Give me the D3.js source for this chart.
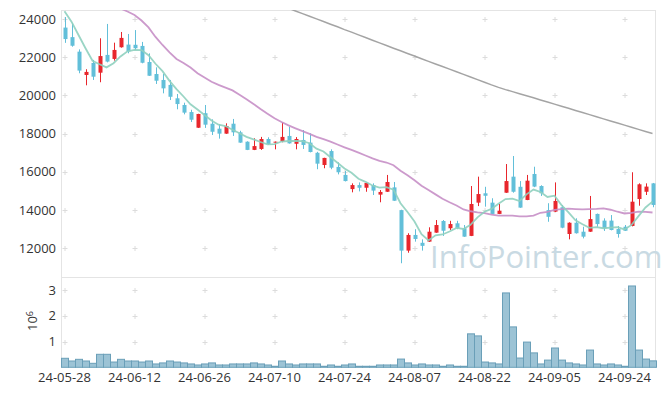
<!DOCTYPE html>
<html><head><meta charset="utf-8">
<script src="https://cdn.jsdelivr.net/npm/d3@7"></script>
<style>body{margin:0;background:#fff}svg{display:block}</style>
</head><body><svg id="c" width="665" height="396"></svg>
<script>
const dates = ["24-05-28","24-05-29","24-05-30","24-05-31","24-06-03","24-06-04","24-06-05","24-06-07","24-06-10","24-06-11",
"24-06-12","24-06-13","24-06-14","24-06-17","24-06-18","24-06-19","24-06-20","24-06-21","24-06-24","24-06-25",
"24-06-26","24-06-27","24-06-28","24-07-01","24-07-02","24-07-03","24-07-04","24-07-05","24-07-08","24-07-09",
"24-07-10","24-07-11","24-07-12","24-07-15","24-07-16","24-07-17","24-07-18","24-07-19","24-07-22","24-07-23",
"24-07-24","24-07-25","24-07-26","24-07-29","24-07-30","24-07-31","24-08-01","24-08-02","24-08-05","24-08-06",
"24-08-07","24-08-08","24-08-09","24-08-12","24-08-13","24-08-14","24-08-16","24-08-19","24-08-20","24-08-21",
"24-08-22","24-08-23","24-08-26","24-08-27","24-08-28","24-08-29","24-08-30","24-09-02","24-09-03","24-09-04",
"24-09-05","24-09-06","24-09-09","24-09-10","24-09-11","24-09-12","24-09-13","24-09-19","24-09-20","24-09-23",
"24-09-24","24-09-25","24-09-26","24-09-27","24-09-30"];
const openP = [23550,23050,22290,21070,21700,21190,22120,21910,22520,22660,
22650,22590,21750,21120,20810,20550,19850,19500,19130,18310,
19070,18520,18260,18000,18520,18070,17580,17150,17200,17720,
17530,17600,17880,17470,17670,17530,17000,16360,17090,16260,
15840,15100,15310,15170,15310,14810,14960,15190,14000,11880,
12700,12290,12350,12820,13430,13050,13310,13050,12650,14390,
14880,14390,13800,14910,15750,15220,14530,15890,15260,14000,
13920,14150,12750,13340,12870,12870,13800,13450,13450,13010,
13130,13170,14580,14960,15400];
const highP = [24100,23780,22410,21370,21860,22990,23740,22760,23320,23215,
23420,22800,22200,21470,21120,20810,20075,19620,19250,19040,
19500,18750,18500,18540,18770,18150,17600,17760,17830,17810,
17590,18590,18360,17820,18190,18020,17050,16740,17180,16500,
16050,15400,15450,15430,15400,15050,15840,15470,14020,12790,
13000,12470,13100,13480,13480,13440,13440,13220,15260,15750,
15220,14620,14320,16410,16830,15520,15840,16270,15300,14360,
15450,14270,13360,13570,13130,14740,13820,13570,13740,13170,
13220,15980,15400,15400,15420];
const lowP = [22750,22550,21160,20530,20810,20690,21730,21820,22500,22205,
22380,21680,21020,20600,20110,19760,19275,19010,18610,18300,
18300,17930,17740,17990,17880,17520,17140,17140,17150,17410,
17180,17550,17480,17180,17200,17020,16140,16190,16140,15870,
15500,14930,14980,14960,14790,14410,14950,14480,11220,11770,
12350,11880,12340,12810,12650,12960,13000,12600,12640,14210,
14180,13790,13790,14900,14910,14120,14520,15200,14740,13390,
13900,13050,12470,12770,12520,12860,13130,12910,12940,12560,
12910,13150,14230,14790,14150];
const closeP = [22950,22600,21300,21230,20980,22060,21770,22380,23010,22310,
22470,21710,21030,20770,20370,19930,19550,19100,18730,19030,
18470,18100,18000,18400,18070,17530,17150,17350,17720,17460,
17580,17830,17490,17720,17410,17040,16430,16730,16220,15980,
15520,15310,15170,15420,15020,14950,15470,14490,11880,12700,
12490,12130,12870,13220,12920,13270,13050,12610,14320,14840,
14750,13800,13970,15520,14960,14130,15540,15230,14880,13650,
14480,13080,13340,12790,12610,13530,13270,13050,12960,12750,
12920,14440,15350,15230,14270];
// volume in millions of shares
const volume = [0.35,0.245,0.31,0.245,0.155,0.505,0.505,0.205,0.31,0.245,
0.245,0.205,0.245,0.13,0.17,0.245,0.205,0.17,0.13,0.09,
0.13,0.17,0.09,0.09,0.13,0.13,0.13,0.17,0.13,0.09,
0.04,0.245,0.13,0.09,0.13,0.13,0.13,0.04,0.09,0.04,
0.09,0.13,0.04,0.04,0.04,0.09,0.09,0.09,0.32,0.17,
0.09,0.13,0.09,0.09,0.04,0.09,0.04,0.04,1.30,1.22,
0.205,0.17,0.13,2.89,1.57,0.36,0.98,0.56,0.13,0.28,
0.75,0.28,0.17,0.13,0.09,0.67,0.13,0.09,0.13,0.09,
0.04,3.16,0.67,0.32,0.25];
const ma5Lead = [24400,23860,23160,22470];
const ma20Lead = [null,null,null,null,null,null,null,null,24550,24390,24210,23920,23560,23060,22640,22250,21910,21700,21460];
const ma60 = [null,null,null,null,null,null,null,null,null,null,
null,null,null,null,null,null,null,null,null,null,
null,null,null,null,null,null,null,null,null,null,
null,24700,24560,24420,24280,24140,24005,23865,23725,23590,
23445,23310,23170,23030,22890,22750,22610,22470,22335,22195,
22060,21920,21780,21645,21510,21375,21240,21100,20965,20825,
20690,20550,20420,20305,20200,20090,19985,19875,19765,19655,
19545,19435,19325,19215,19105,18995,18885,18775,18665,18555,
18445,18335,18225,18115,18005];
const priceTicks = [12000,14000,16000,18000,20000,22000,24000];
const volTicks = [1,2,3];
const xTickIdx = [0,10,20,30,40,50,60,70,80];

const svg = d3.select("#c");
const N = dates.length;
const x = d3.scaleBand().domain(d3.range(N)).range([61,656]).padding(0);
const cx = i => x(i) + x.bandwidth()/2;
const y = d3.scaleLinear().domain([10500,24470]).range([277,10]);
const yv = d3.scaleLinear().domain([0,3.47]).range([367.3,278]);

const font = "'Open Sans','Noto Sans',sans-serif";

// moving averages computed from closes
function sma(n, lead){
  return closeP.map((c,i)=> i < n-1 ? lead[i] : d3.mean(closeP.slice(i-n+1,i+1)));
}
const ma5 = sma(5, ma5Lead);
const ma20 = sma(20, ma20Lead);

// grid crosses
const gridG = svg.append("g").attr("stroke","#dcdcdc").attr("stroke-width",1);
function cross(px,py){
  gridG.append("line").attr("x1",px-2.5).attr("x2",px+2.5).attr("y1",py).attr("y2",py);
  gridG.append("line").attr("x1",px).attr("x2",px).attr("y1",py-2.5).attr("y2",py+2.5);
}
xTickIdx.forEach(i=>{
  priceTicks.forEach(t=>cross(Math.round(cx(i)),Math.round(y(t))+0.5));
  volTicks.forEach(t=>cross(Math.round(cx(i)),Math.round(yv(t))+0.5));
});

// frame
const frame = svg.append("g").attr("stroke","#e4e4e4").attr("fill","none");
frame.append("line").attr("x1",61.5).attr("x2",61.5).attr("y1",10).attr("y2",368);
frame.append("line").attr("x1",61).attr("x2",656).attr("y1",10.5).attr("y2",10.5);
frame.append("line").attr("x1",655.5).attr("x2",655.5).attr("y1",10).attr("y2",368);
frame.append("line").attr("x1",61).attr("x2",656).attr("y1",277.5).attr("y2",277.5);

// watermark
svg.append("text").attr("x",430).attr("y",268).attr("font-family",font)
  .attr("font-size",31).attr("fill","#c9dae3").text("InfoPointer.com");

// clip
svg.append("clipPath").attr("id","pc").append("rect").attr("x",61).attr("y",10).attr("width",595).attr("height",267);

const up = "#e8262c", down = "#62bfd9";
const cg = svg.append("g").attr("clip-path","url(#pc)");
const candles = cg.selectAll("g.k").data(d3.range(N)).join("g");
candles.append("line")
  .attr("x1",i=>Math.round(cx(i))+0.5).attr("x2",i=>Math.round(cx(i))+0.5)
  .attr("y1",i=>y(highP[i])).attr("y2",i=>y(lowP[i]))
  .attr("stroke",i=>closeP[i]>=openP[i]?up:down).attr("stroke-width",1);
candles.append("rect")
  .attr("x",i=>Math.round(cx(i))-1.5).attr("width",4)
  .attr("y",i=>y(Math.max(openP[i],closeP[i])))
  .attr("height",i=>Math.max(1,Math.abs(y(openP[i])-y(closeP[i]))))
  .attr("fill",i=>closeP[i]>=openP[i]?up:down);

function drawMA(arr,color,w){
  const line = d3.line().defined(d=>d!=null).x((d,i)=>cx(i)).y(d=>y(d));
  cg.append("path").datum(arr).attr("d",line).attr("fill","none")
    .attr("stroke",color).attr("stroke-width",w).attr("stroke-opacity",0.9);
}
drawMA(ma60,"#9a9a9a",1.5);
drawMA(ma20,"#c78fc7",1.8);
drawMA(ma5,"#8fd0bf",1.8);

// volume bars
svg.append("g").selectAll("rect").data(d3.range(N)).join("rect")
  .attr("x",i=>x(i)+0.5).attr("width",x.bandwidth())
  .attr("y",i=>yv(volume[i])).attr("height",i=>yv(0)-yv(volume[i]))
  .attr("fill","#9cc3d5").attr("stroke","#6a9fb8").attr("stroke-width",1);

// axis labels
const lab = svg.append("g").attr("font-family",font).attr("font-size",13).attr("fill","#333");
priceTicks.forEach(t=>lab.append("text").attr("x",56).attr("y",y(t)).attr("dy","0.35em").attr("text-anchor","end").text(t));
volTicks.forEach(t=>lab.append("text").attr("x",56).attr("y",yv(t)).attr("dy","0.35em").attr("text-anchor","end").text(t));
xTickIdx.forEach(i=>lab.append("text").attr("x",cx(i)).attr("y",382).attr("text-anchor","middle").text(dates[i]));

const yl = svg.append("text").attr("font-family",font).attr("font-size",13).attr("fill","#333")
  .attr("transform","translate(37,321) rotate(-90)").attr("text-anchor","middle");
yl.append("tspan").text("10");
yl.append("tspan").attr("dy",-4).attr("font-size",9).text("6");
</script></body></html>
